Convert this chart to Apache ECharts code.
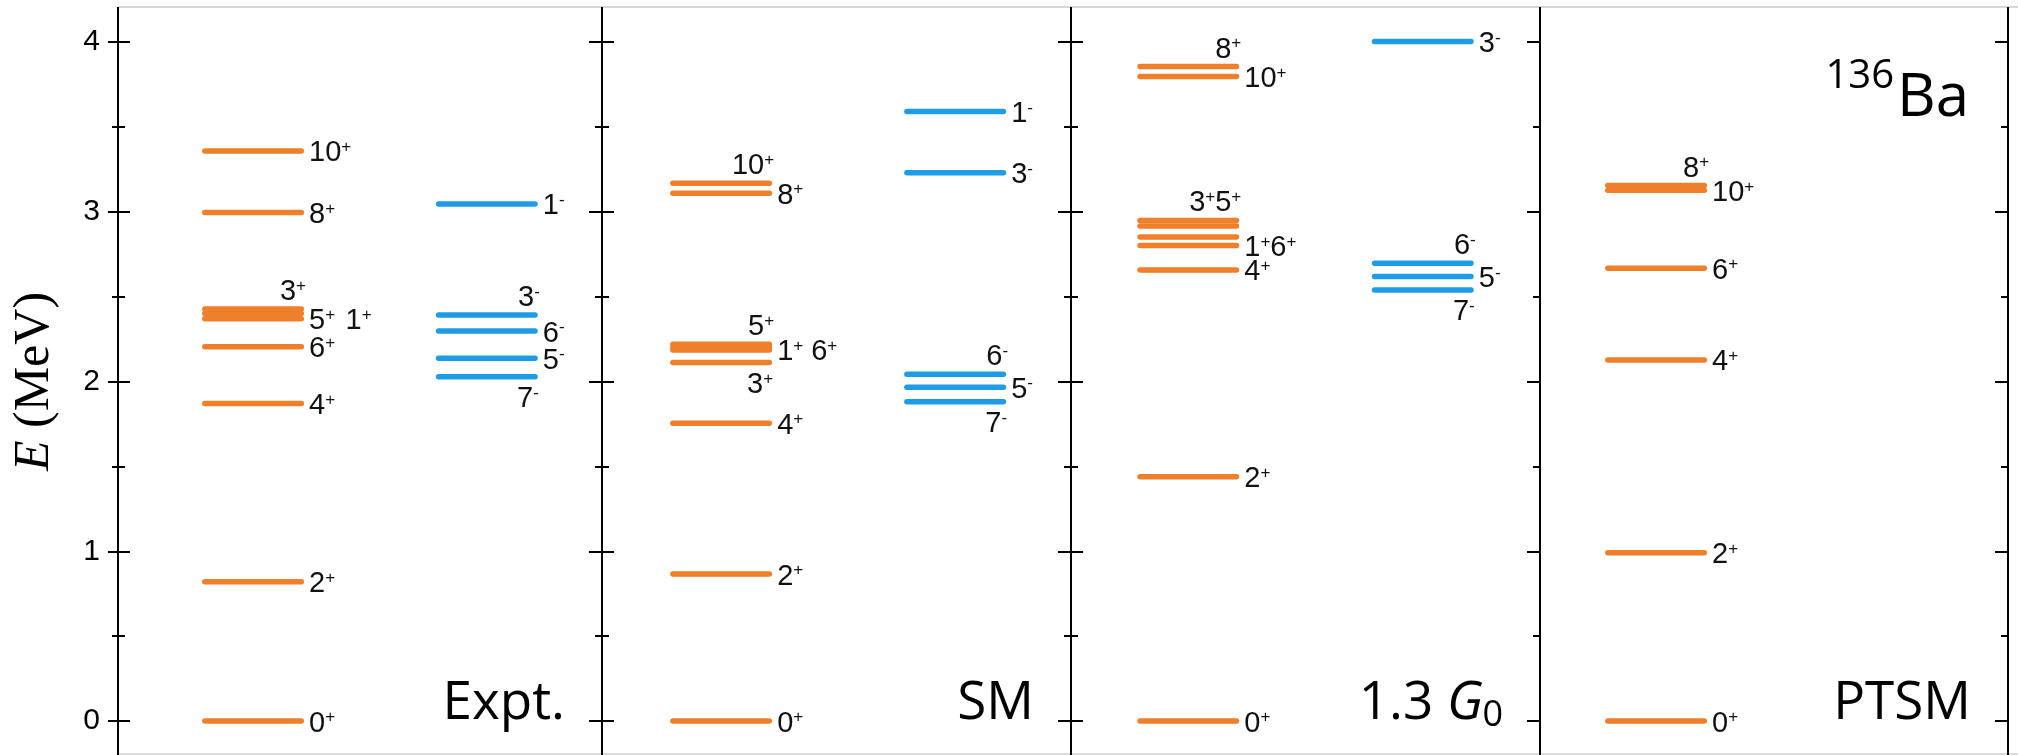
<!DOCTYPE html>
<html><head><meta charset="utf-8">
<script src="https://cdn.jsdelivr.net/npm/echarts@6/dist/echarts.min.js"></script>
<style>html,body{margin:0;padding:0;background:#fff}#c{width:2018px;height:755px}</style>
</head><body><div id="c"></div>
<script>
// ---------------- data ----------------
const panelNames = ['Expt.', 'SM', '1.3 G0', 'PTSM'];
const parityCols = ['+', '-'];
const yTicks = [0, 1, 2, 3, 4];
const yTickLabels = ['0', '1', '2', '3', '4'];
const yMinorTicks = [0.5, 1.5, 2.5, 3.5];

const exptPosSpin = ['0+', '2+', '4+', '6+', '1+', '5+', '3+', '8+', '10+'];
const exptPosE    = [0, 0.821, 1.871, 2.205, 2.370, 2.400, 2.427, 2.995, 3.358];
const exptNegSpin = ['7-', '5-', '6-', '3-', '1-'];
const exptNegE    = [2.028, 2.137, 2.297, 2.392, 3.046];

const smPosSpin = ['0+', '2+', '4+', '3+', '6+', '1+', '5+', '8+', '10+'];
const smPosE    = [0, 0.866, 1.754, 2.112, 2.186, 2.202, 2.219, 3.109, 3.168];
const smNegSpin = ['7-', '5-', '6-', '3-', '1-'];
const smNegE    = [1.881, 1.966, 2.042, 3.230, 3.590];

const g13PosSpin = ['0+', '2+', '4+', '6+', '1+', '5+', '3+', '10+', '8+'];
const g13PosE    = [0, 1.439, 2.657, 2.801, 2.851, 2.916, 2.949, 3.796, 3.855];
const g13NegSpin = ['7-', '5-', '6-', '3-'];
const g13NegE    = [2.539, 2.618, 2.696, 4.002];

const ptsmPosSpin = ['0+', '2+', '4+', '6+', '10+', '8+'];
const ptsmPosE    = [0, 0.992, 2.127, 2.667, 3.126, 3.154];
const ptsmNegSpin = [];
const ptsmNegE    = [];

// label grouping / placement (layout, not data)
const labelLayout = [
  [ {col:0,spins:['0+'],side:'right'},{col:0,spins:['2+'],side:'right'},{col:0,spins:['4+'],side:'right'},
    {col:0,spins:['6+'],side:'right'},{col:0,spins:['5+','1+'],sep:' \u200A',side:'right'},{col:0,spins:['3+'],side:'above'},
    {col:0,spins:['8+'],side:'right'},{col:0,spins:['10+'],side:'right'},
    {col:1,spins:['7-'],side:'below'},{col:1,spins:['5-'],side:'right'},{col:1,spins:['6-'],side:'right'},
    {col:1,spins:['3-'],side:'above'},{col:1,spins:['1-'],side:'right'} ],
  [ {col:0,spins:['0+'],side:'right'},{col:0,spins:['2+'],side:'right'},{col:0,spins:['4+'],side:'right'},
    {col:0,spins:['3+'],side:'below'},{col:0,spins:['1+','6+'],sep:' ',side:'right'},{col:0,spins:['5+'],side:'above'},
    {col:0,spins:['8+'],side:'right'},{col:0,spins:['10+'],side:'above'},
    {col:1,spins:['7-'],side:'below'},{col:1,spins:['5-'],side:'right'},{col:1,spins:['6-'],side:'above'},
    {col:1,spins:['3-'],side:'right'},{col:1,spins:['1-'],side:'right'} ],
  [ {col:0,spins:['0+'],side:'right'},{col:0,spins:['2+'],side:'right'},{col:0,spins:['4+'],side:'right'},
    {col:0,spins:['1+','6+'],sep:'',side:'right'},{col:0,spins:['3+','5+'],sep:'',side:'above'},
    {col:0,spins:['10+'],side:'right'},{col:0,spins:['8+'],side:'above'},
    {col:1,spins:['7-'],side:'below'},{col:1,spins:['5-'],side:'right'},{col:1,spins:['6-'],side:'above'},
    {col:1,spins:['3-'],side:'right'} ],
  [ {col:0,spins:['0+'],side:'right'},{col:0,spins:['2+'],side:'right'},{col:0,spins:['4+'],side:'right'},
    {col:0,spins:['6+'],side:'right'},{col:0,spins:['10+'],side:'right'},{col:0,spins:['8+'],side:'above'} ]
];

// ---------------- layout / style ----------------
const ORANGE = '#EF7F2A', BLUE = '#1E9CE6';
const panelEdges = [118, 602, 1071, 1540, 2008];
// column centres as fraction of each panel's width
const colCentre = [[0.279, 0.762], [0.254, 0.753], [0.250, 0.750], [0.248, 0.75]];
const gridTop = 8, gridH = 747;
const yMin = -0.2, yMax = 4.2;
const HALF = 48.25;   // half length of a level line (px, excl. caps)
const LW = 5.5;

const panels = [
  [[exptPosSpin, exptPosE], [exptNegSpin, exptNegE]],
  [[smPosSpin, smPosE], [smNegSpin, smNegE]],
  [[g13PosSpin, g13PosE], [g13NegSpin, g13NegE]],
  [[ptsmPosSpin, ptsmPosE], [ptsmNegSpin, ptsmNegE]]
];

function fmtSpin(s) {
  const m = s.match(/^(\d+)([+-])$/);
  return m[1] + '{s|' + m[2] + '}';
}

const grids = [], xAxes = [], yAxes = [], series = [];
const axisLineStyle = {color: '#000', width: 2};

function yAxis(gi, pos, ticks, len, inside, extra) {
  return Object.assign({
    type: 'value', gridIndex: gi, position: pos, min: yMin, max: yMax,
    axisLine: {show: true, onZero: false, lineStyle: axisLineStyle},
    axisTick: {show: ticks !== null, inside: inside, length: len, lineStyle: {color: '#000', width: 2},
               customValues: ticks || []},
    axisLabel: {show: false},
    splitLine: {show: false}
  }, extra || {});
}

for (let i = 0; i < 4; i++) {
  grids.push({left: panelEdges[i], top: gridTop, width: panelEdges[i + 1] - panelEdges[i], height: gridH});
  xAxes.push({type: 'value', gridIndex: i, min: 0, max: 1, show: false});
  yAxes.push(yAxis(i, 'left', i === 3 ? null : yTicks, 12, true));
  yAxes.push(yAxis(i, 'left', i === 3 ? null : yMinorTicks, 7, true));
  yAxes.push(yAxis(i, 'right', yTicks, 13, true));
  yAxes.push(yAxis(i, 'right', yMinorTicks, 7, true));
}
// outer ticks + labels on the leftmost axis
yAxes.push(yAxis(0, 'left', yTicks, 10, false, {
  axisLabel: {show: true, customValues: yTicks, margin: 18, fontSize: 30, color: '#000',
              fontFamily: 'Liberation Sans, Arial, sans-serif',
              formatter: v => yTickLabels[yTicks.indexOf(v)]},
  name: '{i|E} (MeV)', nameLocation: 'middle', nameRotate: 90, nameGap: 58,
  nameTextStyle: {fontSize: 50, fontFamily: 'Liberation Serif, Times New Roman, serif', color: '#000',
                  rich: {i: {fontSize: 50, fontStyle: 'italic', fontFamily: 'Liberation Serif, Times New Roman, serif', color: '#000'}}}
}));
yAxes.push(yAxis(0, 'left', yMinorTicks, 6, false));

const supRich = {s: {fontSize: 17, verticalAlign: 'top', fontFamily: 'Liberation Sans, Arial, sans-serif', fill: '#111', color: '#111'}};

for (let i = 0; i < 4; i++) {
  const data = [];
  panels[i].forEach((col, ci) => col[1].forEach(E => data.push([ci, E])));
  const cc = colCentre[i];
  series.push({
    type: 'custom', xAxisIndex: i, yAxisIndex: 4 * i, silent: true, clip: false, data: data,
    encode: {x: -1, y: 1},
    renderItem: function (params, api) {
      const ci = api.value(0);
      const c = api.coord([cc[ci], api.value(1)]);
      return {type: 'line', shape: {x1: c[0] - HALF, y1: c[1], x2: c[0] + HALF, y2: c[1]},
              style: {stroke: ci === 0 ? ORANGE : BLUE, lineWidth: LW, lineCap: 'round'}};
    }
  });
  const labs = labelLayout[i].map(L => {
    const [spins, Es] = panels[i][L.col];
    const es = L.spins.map(s => Es[spins.indexOf(s)]);
    const anchor = L.side === 'above' ? Math.max(...es) : Math.min(...es);
    return {col: L.col, E: anchor, side: L.side, text: L.spins.map(fmtSpin).join(L.sep || '')};
  });
  series.push({
    type: 'custom', xAxisIndex: i, yAxisIndex: 4 * i, silent: true, clip: false,
    data: labs.map(l => [l.col, l.E]),
    encode: {x: -1, y: 1},
    renderItem: function (params, api) {
      const L = labs[params.dataIndex];
      const c = api.coord([cc[L.col], api.value(1)]);
      const xEnd = c[0] + HALF + LW / 2;
      let x, y, align, va;
      if (L.side === 'right') { x = xEnd + 5; y = c[1] + 2.5; align = 'left'; va = 'middle'; }
      else if (L.side === 'above') { x = xEnd + 2; y = c[1] - 2.5; align = 'right'; va = 'bottom'; }
      else { x = xEnd + 1; y = c[1] + 8; align = 'right'; va = 'top'; }
      return {type: 'text', x: x, y: y,
              style: {text: L.text, align: align, verticalAlign: va, textAlign: align, textVerticalAlign: va,
                      fontSize: 29, fontFamily: 'Liberation Sans, Arial, sans-serif', fill: '#111', rich: supRich}};
    }
  });
}

// panel titles and nucleus label
const titleFont = 'Open Sans, Noto Sans, sans-serif';
const graphics = [
  {type: 'line', shape: {x1: panelEdges[0], y1: 7, x2: 2018, y2: 7}, style: {stroke: '#d6d6d6', lineWidth: 2}, silent: true},
  {type: 'line', shape: {x1: panelEdges[0], y1: 754, x2: 2018, y2: 754}, style: {stroke: '#dcdcdc', lineWidth: 2}, silent: true}
];
const titleMain = ['Expt.', 'SM', '1.3 {g|G}', 'PTSM'];
for (let i = 0; i < 4; i++) {
  const right = panelEdges[i + 1] - 37;
  if (i === 2) {
    graphics.push({type: 'text', x: right, y: 716, silent: true,
      style: {text: '0', align: 'right', verticalAlign: 'middle', textAlign: 'right', textVerticalAlign: 'middle',
              fontSize: 36, fontFamily: titleFont, fill: '#000'}});
    graphics.push({type: 'text', x: right - 20, y: 704, silent: true,
      style: {text: titleMain[i], align: 'right', verticalAlign: 'middle', textAlign: 'right', textVerticalAlign: 'middle',
              fontSize: 53, fontFamily: titleFont, fill: '#000',
              rich: {g: {fontSize: 53, fontStyle: 'italic', fontFamily: titleFont, fill: '#000', color: '#000'}}}});
  } else {
    graphics.push({type: 'text', x: right, y: 704, silent: true,
      style: {text: titleMain[i], align: 'right', verticalAlign: 'middle', textAlign: 'right', textVerticalAlign: 'middle',
              fontSize: 53, fontFamily: titleFont, fill: '#000'}});
  }
}
graphics.push({type: 'text', x: 1897, y: 99, silent: true,
  style: {text: 'Ba', align: 'left', verticalAlign: 'middle', textAlign: 'left', textVerticalAlign: 'middle',
          fontSize: 60, fontFamily: titleFont, fill: '#000'}});
graphics.push({type: 'text', x: 1894, y: 77, silent: true,
  style: {text: '136', align: 'right', verticalAlign: 'middle', textAlign: 'right', textVerticalAlign: 'middle',
          fontSize: 40, fontFamily: titleFont, fill: '#000'}});

const chart = echarts.init(document.getElementById('c'), null, {renderer: 'canvas'});
chart.setOption({
  animation: false,
  backgroundColor: '#fff',
  grid: grids, xAxis: xAxes, yAxis: yAxes, series: series,
  graphic: graphics
});
</script></body></html>
